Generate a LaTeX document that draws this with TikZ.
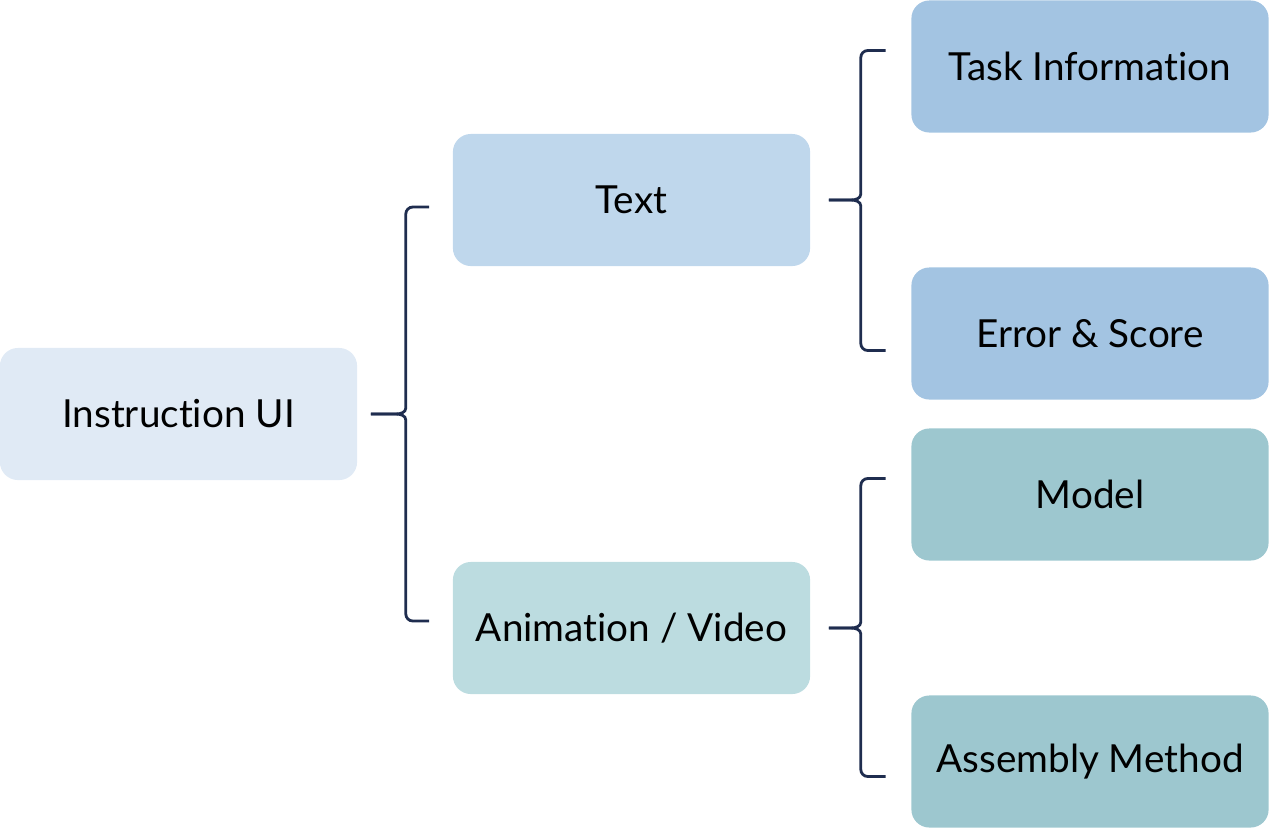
\documentclass[tikz,border=0pt]{standalone}
\usepackage{fontspec}
\setmainfont{Lato}[Ligatures={NoCommon,NoContextual}]
\usetikzlibrary{calc}

\definecolor{uiblue}{HTML}{E0EAF5}
\definecolor{textblue}{HTML}{BFD7EC}
\definecolor{animteal}{HTML}{BCDCE0}
\definecolor{infoblue}{HTML}{A3C4E2}
\definecolor{modelteal}{HTML}{9DC7CF}
\definecolor{bracenavy}{HTML}{1F2D4F}

% one curly bracket: #1 tip, #2 point on the spine at tip height, #3 upper end, #4 lower end
\newcommand{\bracket}[4]{%
  \draw[brak] (#3) -- ($(#3 -| #2)+(7,0)$) to[out=180,in=90] ($(#3 -| #2)+(0,7)$)
    -- ($(#2)+(0,-6)$) to[out=-90,in=0] ($(#2)+(-10,0)$) -- (#1);
  \draw[brak] (#4) -- ($(#4 -| #2)+(7,0)$) to[out=180,in=-90] ($(#4 -| #2)+(0,-7)$)
    -- ($(#2)+(0,6)$) to[out=90,in=0] ($(#2)+(-10,0)$) -- (#1);
}

\begin{document}
\begin{tikzpicture}[x=0.01cm,y=-0.01cm,
    box/.style={rounded corners=0.18cm,minimum width=3.57cm,minimum height=1.32cm,
      inner sep=0pt,font=\fontsize{11}{13}\selectfont},
    brak/.style={draw=bracenavy,line width=0.8pt}]
  \useasboundingbox (0,0) rectangle (1269,830);

  \node[box,fill=uiblue] (ui) at (178.5,414) {Instruction UI};
  \node[box,fill=textblue] (text) at (631.5,200) {Text};
  \node[box,fill=animteal] (anim) at (631.5,628) {Animation / Video};
  \node[box,fill=infoblue] (task) at (1090,66.5) {Task Information};
  \node[box,fill=infoblue] (err) at (1090,333.5) {Error \& Score};
  \node[box,fill=modelteal] (model) at (1090,494.5) {Model};
  \node[box,fill=modelteal] (asm) at (1090,761.5) {Assembly Method};

  % bracket from Instruction UI
  \coordinate (uitip) at ($(ui.east)+(13,0)$);
  \coordinate (uimid) at ($(ui.east)+(48,0)$);
  \coordinate (uitop) at ($(text.west)+(-23,7)$);
  \coordinate (uibot) at ($(anim.west)+(-23,-7)$);
  \bracket{uitip}{uimid}{uitop}{uibot}

  % bracket from Text
  \coordinate (texttip) at ($(text.east)+(18,0)$);
  \coordinate (textmid) at ($(text.east)+(50,0)$);
  \coordinate (texttop) at ($(task.west)+(-25,-16)$);
  \coordinate (textbot) at ($(err.west)+(-25,17)$);
  \bracket{texttip}{textmid}{texttop}{textbot}

  % bracket from Animation / Video
  \coordinate (animtip) at ($(anim.east)+(18,0)$);
  \coordinate (animmid) at ($(anim.east)+(50,0)$);
  \coordinate (animtop) at ($(model.west)+(-25,-16)$);
  \coordinate (animbot) at ($(asm.west)+(-25,15)$);
  \bracket{animtip}{animmid}{animtop}{animbot}
\end{tikzpicture}
\end{document}
